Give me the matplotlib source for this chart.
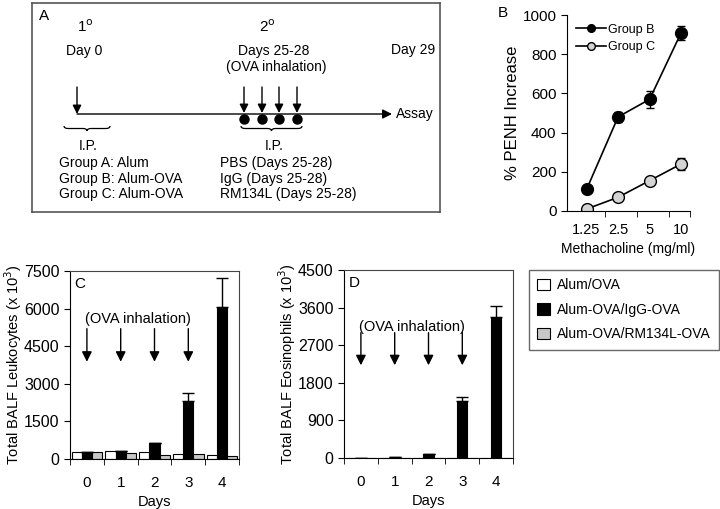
import numpy as np
import matplotlib
matplotlib.use('Agg')
import matplotlib.pyplot as plt
from matplotlib.path import Path
from matplotlib.patches import PathPatch, Patch

plt.rcParams['font.family'] = ['Liberation Sans', 'DejaVu Sans']
plt.rcParams['font.size'] = 10

# panel B: airway responsiveness
conc_labels = ['1.25', '2.5', '5', '10']
penh_b = [110, 480, 570, 910]
penh_b_err = [0, 25, 42, 35]
penh_c = [10, 70, 155, 240]
penh_c_err = [0, 0, 10, 30]

# panels C/D: BALF counts per day
days = [0, 1, 2, 3, 4]
leuk_alum = [270, 310, 270, 190, 150]
leuk_igg = [260, 300, 620, 2300, 6080]
leuk_igg_err = [0, 0, 0, 340, 1160]
leuk_rm = [270, 230, 140, 190, 100]

eos_alum = [4, 5, 5, 4, 3]
eos_igg = [5, 30, 95, 1370, 3380]
eos_igg_err = [0, 0, 0, 80, 260]
eos_rm = [3, 4, 4, 3, 3]

inhalation_days = [0, 1, 2, 3]
series_names = ['Alum/OVA', 'Alum-OVA/IgG-OVA', 'Alum-OVA/RM134L-OVA']
series_colors = ['white', 'black', '#c8c8c8']

fig = plt.figure(figsize=(7.2, 5.09), dpi=100)


def px(l, t, r, b):
    # pixel box -> figure fraction rect
    return [l / 720, 1 - b / 509, (r - l) / 720, (b - t) / 509]


# ---------------- Panel A: protocol diagram ----------------
axA = fig.add_axes(px(32, 3, 440, 212))
axA.set_xlim(32, 440)
axA.set_ylim(212, 3)
axA.set_xticks([])
axA.set_yticks([])
for s in axA.spines.values():
    s.set_color('#555555')
    s.set_linewidth(1.2)


def brace(ax, x0, x1, y, h=5, r=4):
    xm = (x0 + x1) / 2
    verts = [(x0, y), (x0, y + h / 2), (x0 + r, y + h / 2),
             (xm - r, y + h / 2), (xm, y + h / 2), (xm, y + h),
             (xm, y + h / 2), (xm + r, y + h / 2),
             (x1 - r, y + h / 2), (x1, y + h / 2), (x1, y)]
    codes = [Path.MOVETO, Path.CURVE3, Path.CURVE3,
             Path.LINETO, Path.CURVE3, Path.CURVE3,
             Path.CURVE3, Path.CURVE3,
             Path.LINETO, Path.CURVE3, Path.CURVE3]
    ax.add_patch(PathPatch(Path(verts, codes), fill=False, lw=0.9, color='black'))


axA.text(39, 16, 'A', fontsize=11, ha='left', va='center')
axA.text(85, 27, '1$^{\\rm o}$', fontsize=11, ha='center', va='center')
axA.text(267, 27, '2$^{\\rm o}$', fontsize=11, ha='center', va='center')
axA.text(84, 51, 'Day 0', ha='center', va='center')
axA.text(274, 51, 'Days 25-28', ha='center', va='center')
axA.text(276, 67, '(OVA inhalation)', ha='center', va='center')
axA.text(413, 50, 'Day 29', ha='center', va='center')

axA.annotate('', xy=(392, 114), xytext=(77, 114),
             arrowprops=dict(arrowstyle='-|>', lw=1, color='black', mutation_scale=14, shrinkA=0, shrinkB=0))
axA.text(396, 114, 'Assay', ha='left', va='center')
axA.annotate('', xy=(77, 114), xytext=(77, 87),
             arrowprops=dict(arrowstyle='-|>', lw=1, color='black', mutation_scale=13, shrinkA=0, shrinkB=0))
for x in [244, 262, 279, 297]:
    axA.annotate('', xy=(x, 113), xytext=(x, 87),
                 arrowprops=dict(arrowstyle='-|>', lw=1, color='black', mutation_scale=13, shrinkA=0, shrinkB=0))
axA.plot([244, 262, 279, 297], [119] * 4, 'o', color='black', ms=6.5)

brace(axA, 64, 110, 126)
brace(axA, 241, 302, 126)
axA.text(88, 146, 'I.P.', ha='center', va='center')
axA.text(274, 146, 'I.P.', ha='center', va='center')
for y, a, b in zip([163, 179, 194],
                   ['Group A: Alum', 'Group B: Alum-OVA', 'Group C: Alum-OVA'],
                   ['PBS (Days 25-28)', 'IgG (Days 25-28)', 'RM134L (Days 25-28)']):
    axA.text(59, y, a, ha='left', va='center')
    axA.text(220, y, b, ha='left', va='center')

# ---------------- Panel B: PENH ----------------
axB = fig.add_axes(px(567, 15, 690, 211))
xb = np.arange(len(conc_labels))
axB.errorbar(xb, penh_b, yerr=penh_b_err, fmt='none', ecolor='black', capsize=3, elinewidth=1)
axB.errorbar(xb, penh_c, yerr=penh_c_err, fmt='none', ecolor='black', capsize=3, elinewidth=1)
axB.plot(xb, penh_b, color='black', marker='o', ms=8.5, mfc='black', mec='black', lw=1.2, label='Group B')
axB.plot(xb, penh_c, color='black', marker='o', ms=8.5, mfc='#d4d4d4', mec='black', lw=1.2, label='Group C')
axB.set_xlim(-0.62, 3.28)
axB.set_ylim(0, 1000)
axB.set_yticks(range(0, 1001, 200))
axB.set_xticks(xb)
axB.set_xticklabels(conc_labels)
axB.tick_params(axis='x', length=0, pad=9, labelsize=10.5)
axB.set_xticks([0.6, 1.6, 2.6, 3.28], minor=True)
axB.tick_params(axis='x', which='minor', length=4, direction='out')
axB.tick_params(axis='y', length=4, direction='out', labelsize=11)
axB.spines['top'].set_visible(False)
axB.spines['right'].set_visible(False)
axB.set_xlabel('Methacholine (mg/ml)', labelpad=3, fontsize=10)
axB.set_ylabel('% PENH Increase', labelpad=2, fontsize=12)
axB.legend(loc='upper left', frameon=False, fontsize=9, handlelength=2.4,
           borderaxespad=0.3, labelspacing=0.45, handletextpad=0.2, markerscale=0.65,
           bbox_to_anchor=(0.0, 1.0))
fig.text(503 / 720, 1 - 13 / 509, 'B', fontsize=11, ha='center', va='center')


# ---------------- Panels C and D: bars ----------------
def bar_panel(rect, alum, igg, igg_err, rm, ymax, step, ylabel, letter, arrow_top, arrow_bot, text_y):
    ax = fig.add_axes(rect)
    x = np.arange(len(days))
    w = 0.3
    for off, vals, col, name in zip([-w, 0, w], [alum, igg, rm], series_colors, series_names):
        ax.bar(x + off, vals, width=w, color=col, edgecolor='black', lw=0.8, label=name)
    ax.errorbar(x, igg, yerr=[np.zeros(len(igg)), igg_err], fmt='none',
                ecolor='black', elinewidth=1, capsize=4)
    ax.set_xlim(-0.5, 4.5)
    ax.set_ylim(0, ymax)
    ax.set_yticks(np.arange(0, ymax + 1, step))
    ax.set_xticks(x)
    ax.set_xticklabels([str(d) for d in days])
    ax.tick_params(axis='x', length=0, pad=12, labelsize=11)
    ax.set_xticks(np.arange(-0.5, 4.6, 1), minor=True)
    ax.tick_params(axis='x', which='minor', length=4, direction='out')
    ax.tick_params(axis='y', length=4, direction='out', labelsize=11.5)
    for s in ['top', 'right']:
        ax.spines[s].set_color('#444444')
    ax.set_xlabel('Days', labelpad=4, fontsize=10.5)
    ax.set_ylabel(ylabel, fontsize=10.5)
    ax.yaxis.set_label_coords(-0.27, 0.5)
    for d in inhalation_days:
        ax.annotate('', xy=(d, arrow_bot), xytext=(d, arrow_top),
                    arrowprops=dict(arrowstyle='-|>', lw=1, color='black',
                                    mutation_scale=15, shrinkA=0, shrinkB=0))
    ax.text(1.5, text_y, '(OVA inhalation)', ha='center', va='center', fontsize=10.5)
    ax.text(-0.2, ymax * 0.93, letter, fontsize=11, ha='center', va='center')
    return ax


axC = bar_panel(px(70, 271, 239, 459), leuk_alum, leuk_igg, leuk_igg_err, leuk_rm,
                7500, 1500, 'Total BALF Leukocytes (x 10$^3$)', 'C', 5200, 3880, 5600)
axD = bar_panel(px(344, 270, 513, 458), eos_alum, eos_igg, eos_igg_err, eos_rm,
                4500, 900, 'Total BALF Eosinophils (x 10$^3$)', 'D', 3000, 2220, 3130)

handles = [Patch(facecolor=c, edgecolor='black', lw=0.8) for c in series_colors]
leg = fig.legend(handles, series_names, loc='upper left',
                 bbox_to_anchor=(529 / 720, 1 - 270 / 509), fontsize=10,
                 fancybox=False, edgecolor='#444444', handlelength=0.9, handleheight=0.9,
                 labelspacing=0.75, handletextpad=0.5, borderpad=0.6, borderaxespad=0)
leg.get_frame().set_linewidth(1)

fig.savefig('out.png', dpi=100)
